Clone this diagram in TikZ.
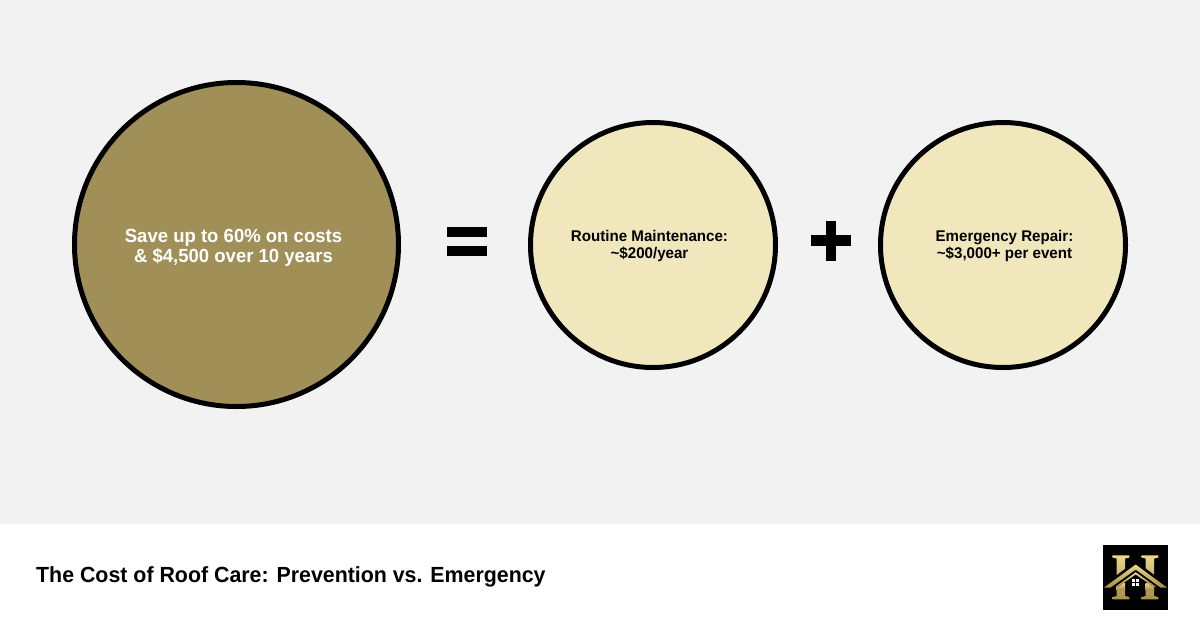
\documentclass[tikz,border=0pt]{standalone}
\usepackage{fontspec}
\setmainfont{Liberation Sans}[BoldFeatures={FakeStretch=0.975}]
\definecolor{bgpanel}{HTML}{F2F2F2}
\definecolor{olive}{HTML}{A08F57}
\definecolor{cream}{HTML}{F1E7BD}
\definecolor{goldA}{HTML}{EAD68C}
\definecolor{goldB}{HTML}{A98F48}
\tikzset{
 x=1pt,y=-1pt,
 disc/.style={circle,draw=black,line width=5pt,inner sep=0pt,minimum size=#1},
 bigtext/.style={align=center,inner sep=0pt,text=white,font=\bfseries\fontsize{19}{20}\selectfont},
 smalltext/.style={align=center,inner sep=0pt,text=black,font=\bfseries\fontsize{15.5}{16.6}\selectfont},
 sym/.style={fill=black,draw=none},
 gold/.style={top color=goldA,bottom color=goldB,draw=none},
}
\begin{document}
\begin{tikzpicture}
\useasboundingbox (0,0) rectangle (1200,630);
\fill[white] (0,0) rectangle (1200,630);
\fill[bgpanel] (0,0) rectangle (1200,524);
\node[disc=324pt,fill=olive] (save) at (236.5,244.5) {};
\node[bigtext] (savetext) at (233.5,247.5) {Save up to 60\% on costs\\\& \$4,500 over 10 years};
\node[disc=245pt,fill=cream] (routine) at (653,245) {};
\node[smalltext] (routinetext) at (649.5,246) {Routine Maintenance:\\\textasciitilde\$200/year};
\node[disc=245pt,fill=cream] (emerg) at (1003,245) {};
\node[smalltext] (emergtext) at (1004.5,246) {Emergency Repair:\\\textasciitilde\$3,000+ per event};
\fill[sym] (447.3,226.7) rectangle (486.7,237);
\fill[sym] (447.3,245.7) rectangle (486.7,255.7);
\fill[sym] (811,235.3) rectangle (851,245.7);
\fill[sym] (825.7,221) rectangle (836,261);
\node[anchor=base west,inner sep=0pt,font=\bfseries\fontsize{21.9}{24}\selectfont] (title) at (36,582.5) {The Cost of Roof Care: Prevention vs. Emergency};
% logo
\fill[black] (1103.3,545) rectangle (1167.7,610);
\begin{scope}
\clip (1103.3,545) rectangle (1167.7,610);
\fill[gold] (1112.7,555.3) -- (1129.3,555.3) -- (1129.3,557.6) -- (1125,558.6) -- (1125,596) -- (1129.3,597) -- (1129.3,599.3) -- (1112.7,599.3) -- (1112.7,597) -- (1116.7,596) -- (1116.7,558.6) -- (1112.7,557.6) -- cycle;
\fill[gold] (1141.7,555.3) -- (1158.3,555.3) -- (1158.3,557.6) -- (1154,558.6) -- (1154,596) -- (1158.3,597) -- (1158.3,599.3) -- (1141.7,599.3) -- (1141.7,597) -- (1145.7,596) -- (1145.7,558.6) -- (1141.7,557.6) -- cycle;
\fill[black] (1135.7,561) -- (1171,587.6) -- (1100,587.6) -- cycle;
\fill[gold] (1116.7,583) rectangle (1125,590);
\fill[gold] (1145.7,583) rectangle (1154,590);
\draw[black,line width=8pt,miter limit=10] (1104,590) -- (1135.7,567) -- (1167,590);
\fill[gold] (1135.7,564.5) -- (1167,587.6) -- (1160.5,587.6) -- (1135.7,569.6) -- (1110.5,587.6) -- (1104,587.6) -- cycle;
\fill[gold] (1135.7,572.2) -- (1156,586.8) -- (1153.5,586.8) -- (1135.7,574.5) -- (1118,586.8) -- (1115.5,586.8) -- cycle;
\fill[white] (1132.2,579) rectangle (1139.2,586.2);
\draw[black,line width=.7pt] (1135.7,579) -- (1135.7,586.2) (1132.2,582.6) -- (1139.2,582.6);
\end{scope}
\end{tikzpicture}
\end{document}
